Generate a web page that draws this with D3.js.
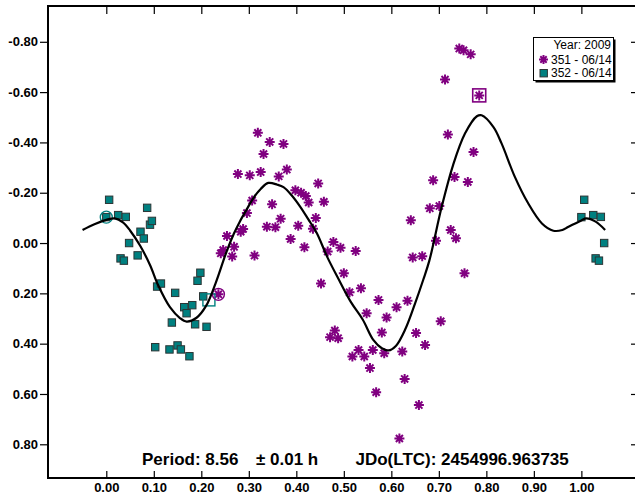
<!DOCTYPE html>
<html>
<head>
<meta charset="utf-8">
<script src="https://cdnjs.cloudflare.com/ajax/libs/d3/7.8.5/d3.min.js"></script>
<style>
  body { margin: 0; background: #fff; }
  svg { display: block; font-family: 'Liberation Sans', Arial, sans-serif; }
</style>
</head>
<body>
<div id="graph"></div>
<script>
// lightcurve data (phase, mag)

var phase351 = [0.236, 0.241, 0.246, 0.254, 0.265, 0.269, 0.277, 0.283, 0.288, 0.296, 0.302, 0.307, 0.312,
  0.319, 0.325, 0.331, 0.338, 0.344, 0.349, 0.356, 0.363, 0.367, 0.373, 0.380, 0.388, 0.398, 0.404, 0.410,
  0.417, 0.420, 0.426, 0.435, 0.441, 0.446, 0.452, 0.458, 0.466, 0.471, 0.478, 0.481, 0.488, 0.493, 0.500,
  0.512, 0.518, 0.525, 0.531, 0.536, 0.543, 0.548, 0.555, 0.561, 0.568, 0.573, 0.580, 0.585, 0.590, 0.611,
  0.617, 0.623, 0.628, 0.634, 0.641, 0.645, 0.652, 0.658, 0.665, 0.671, 0.681, 0.688, 0.694, 0.701, 0.704,
  0.713, 0.719, 0.725, 0.733, 0.736, 0.743, 0.752, 0.754, 0.761, 0.767, 0.773, 0.785];
var mag351 = [0.204, 0.041, 0.028, -0.028, 0.053, 0.015, -0.274, -0.045, -0.056, -0.119, -0.269, -0.169, 0.050,
  -0.438, -0.282, -0.354, -0.065, -0.402, -0.154, -0.063, -0.265, -0.097, -0.394, -0.292, -0.016, -0.210, -0.069, -0.200,
  0.017, -0.187, -0.161, -0.057, -0.100, -0.237, 0.161, -0.164, 0.034, 0.374, -0.004, 0.348, 0.378, 0.019, 0.120,
  0.196, 0.451, 0.032, 0.425, 0.180, 0.451, 0.279, 0.497, 0.425, 0.593, 0.226, 0.356, 0.438, 0.296, 0.255,
  0.777, 0.431, 0.540, 0.229, -0.091, 0.057, 0.358, 0.644, 0.052, 0.405, -0.138, -0.250, -0.009, -0.147, 0.311,
  -0.650, -0.431, -0.052, -0.263, -0.019, -0.773, -0.766, 0.120, -0.243, -0.750, -0.362, -0.587];

var phase352 = [0.000, 0.006, 0.025, 0.030, 0.037, 0.041, 0.048, 0.066, 0.072, 0.079, 0.086, 0.092, 0.096,
  0.103, 0.107, 0.115, 0.133, 0.138, 0.145, 0.150, 0.157, 0.164, 0.169, 0.175, 0.181, 0.187, 0.192, 0.198,
  0.204, 0.211, 0.216];
var mag352 = [-0.103, -0.172, -0.111, 0.061, 0.070, -0.104, 0.000, 0.049, -0.045, -0.018, -0.140, -0.073, -0.088,
  0.414, 0.173, 0.161, 0.423, 0.316, 0.198, 0.407, 0.423, 0.255, 0.279, 0.450, 0.247, 0.323, 0.150, 0.118,
  0.212, 0.333, 0.226];

// fourier fit, traced
var fitPhase = [-0.050, -0.025, 0.000, 0.018, 0.035, 0.050, 0.071, 0.092, 0.109, 0.134, 0.155, 0.169, 0.190,
  0.210, 0.230, 0.253, 0.268, 0.281, 0.296, 0.310, 0.325, 0.341, 0.360, 0.373, 0.390, 0.408, 0.425, 0.443,
  0.465, 0.488, 0.515, 0.540, 0.562, 0.580, 0.594, 0.610, 0.630, 0.650, 0.667, 0.680, 0.706, 0.730, 0.755,
  0.780, 0.790, 0.815, 0.832, 0.860, 0.888, 0.917, 0.941, 0.960, 0.973, 1.000, 1.010, 1.030, 1.050];
var fitMag = [-0.052, -0.075, -0.092, -0.098, -0.082, -0.050, 0.010, 0.087, 0.167, 0.255, 0.298, 0.312, 0.297,
  0.250, 0.160, 0.035, -0.035, -0.085, -0.135, -0.180, -0.215, -0.239, -0.232, -0.222, -0.190, -0.145, -0.095, -0.040,
  0.055, 0.140, 0.235, 0.305, 0.385, 0.418, 0.427, 0.408, 0.340, 0.240, 0.147, 0.070, -0.144, -0.310, -0.435,
  -0.504, -0.508, -0.461, -0.396, -0.263, -0.158, -0.078, -0.049, -0.052, -0.065, -0.090, -0.098, -0.085, -0.052];

var xTicks = [0, 0.1, 0.2, 0.3, 0.4, 0.5, 0.6, 0.7, 0.8, 0.9, 1.0];
var yTicks = [-0.8, -0.6, -0.4, -0.2, 0, 0.2, 0.4, 0.6, 0.8];

var legendTitle = 'Year: 2009';
var legendItems = ['351 - 06/14', '352 - 06/14'];
var periodText = 'Period: 8.56';
var errText = '\u00b1 0.01 h';
var jdText = 'JDo(LTC): 2454996.963735';

var w = 635, h = 499;
var L = 48, R = 636, T = 6, B = 478;

var svg = d3.select('#graph').append('svg').attr('width', w).attr('height', h);

var x = d3.scaleLinear().domain([-0.1227, 1.115]).range([L, R]);
var y = d3.scaleLinear().domain([-0.9423, 0.934]).range([T, B]);

var fmt = function(d) { return d3.format('.2f')(d).replace('\u2212', '-'); };

// axes - left ticks stick out, the rest point inwards
var gl = svg.append('g').attr('transform', 'translate(' + L + ',0)')
  .call(d3.axisLeft(y).tickValues(yTicks).tickFormat(fmt).tickSize(8).tickPadding(2));
var gb = svg.append('g').attr('transform', 'translate(0,' + B + ')')
  .call(d3.axisBottom(x).tickValues(xTicks).tickFormat(fmt).tickSize(-7).tickPadding(5));
var gt = svg.append('g').attr('transform', 'translate(0,' + T + ')')
  .call(d3.axisTop(x).tickValues(xTicks).tickFormat('').tickSize(-8));
var gr = svg.append('g').attr('transform', 'translate(' + R + ',0)')
  .call(d3.axisRight(y).tickValues(yTicks).tickFormat('').tickSize(-5));

[gl, gb, gt, gr].forEach(function(g) {
  g.select('.domain').remove();
  g.selectAll('line').attr('stroke', '#000').attr('stroke-width', 1.2);
  g.selectAll('text')
    .attr('fill', '#000')
    .style('font-family', "'Liberation Sans', Arial, sans-serif")
    .style('font-size', '13px')
    .style('font-weight', 'bold');
});

svg.append('rect')
  .attr('x', L).attr('y', T)
  .attr('width', R - L).attr('height', B - T)
  .attr('fill', 'none').attr('stroke', '#000').attr('stroke-width', 2);

// marker shapes
function star(r) {
  var d = r * 0.7071;
  return 'M' + -r + ',0L' + r + ',0M0,' + -r + 'L0,' + r +
    'M' + -d + ',' + -d + 'L' + d + ',' + d + 'M' + -d + ',' + d + 'L' + d + ',' + -d;
}

var purple = '#800080', teal = '#008080';

var s351 = phase351.map(function(p, i) { return { p: p, m: mag351[i] }; });
var s352 = phase352.map(function(p, i) { return { p: p, m: mag352[i] }; });
var last352 = s352[s352.length - 1];
// points near phase 0 are repeated past 1.0
var wrap352 = s352.filter(function(d) { return d.p < 0.05; }).map(function(d) { return { p: d.p + 1, m: d.m }; });

svg.selectAll('.ast')
  .data(s351)
  .enter()
  .append('path')
  .attr('class', 'ast')
  .attr('transform', function(d) { return 'translate(' + x(d.p) + ',' + y(d.m) + ')'; })
  .attr('d', star(5))
  .attr('stroke', purple)
  .attr('stroke-width', 2)
  .attr('fill', 'none');

svg.selectAll('.sq')
  .data(s352.slice(0, s352.length - 1).concat(wrap352))
  .enter()
  .append('rect')
  .attr('class', 'sq')
  .attr('x', function(d) { return x(d.p) - 3.7; })
  .attr('y', function(d) { return y(d.m) - 3.7; })
  .attr('width', 7.4)
  .attr('height', 7.4)
  .attr('fill', teal)
  .attr('stroke', '#2b3535')
  .attr('stroke-width', 1);

// first point circled, last point boxed
var first351 = s351[0], last351 = s351[s351.length - 1], first352 = s352[0];

svg.append('circle')
  .attr('cx', x(first352.p)).attr('cy', y(first352.m)).attr('r', 6)
  .attr('fill', 'none').attr('stroke', teal).attr('stroke-width', 1.4);
svg.append('rect')
  .attr('x', x(last352.p) - 6).attr('y', y(last352.m) - 6)
  .attr('width', 12).attr('height', 12)
  .attr('fill', 'none').attr('stroke', teal).attr('stroke-width', 1.4);
svg.append('circle')
  .attr('cx', x(first351.p)).attr('cy', y(first351.m)).attr('r', 6)
  .attr('fill', 'none').attr('stroke', purple).attr('stroke-width', 1.4);
svg.append('rect')
  .attr('x', x(last351.p) - 6.5).attr('y', y(last351.m) - 6.5)
  .attr('width', 13).attr('height', 13)
  .attr('fill', 'none').attr('stroke', purple).attr('stroke-width', 1.6);

// fit curve
var fit = fitPhase.map(function(p, i) { return [p, fitMag[i]]; });
var line = d3.line()
  .x(function(d) { return x(d[0]); })
  .y(function(d) { return y(d[1]); })
  .curve(d3.curveCatmullRom.alpha(0.5));

svg.append('path')
  .datum(fit)
  .attr('d', line)
  .attr('fill', 'none')
  .attr('stroke', '#000')
  .attr('stroke-width', 2.2);

// footer texts
var foot = svg.append('g')
  .style('font-size', '17px')
  .style('font-weight', 'bold')
  .attr('fill', '#000');
foot.append('text').attr('x', 142).attr('y', 465).text(periodText);
foot.append('text').attr('x', 256).attr('y', 465).text(errText);
foot.append('text').attr('x', 355.5).attr('y', 465).text(jdText);

// legend
var lg = svg.append('g').attr('id', 'legend');
lg.append('rect')
  .attr('x', 535.5).attr('y', 39.5).attr('width', 80).attr('height', 43)
  .attr('fill', '#000');
lg.append('rect')
  .attr('x', 533.5).attr('y', 37.5).attr('width', 80).attr('height', 43)
  .attr('fill', '#fff').attr('stroke', '#000').attr('stroke-width', 1);
lg.append('text')
  .attr('x', 611).attr('y', 48.5)
  .attr('text-anchor', 'end')
  .style('font-size', '12px')
  .text(legendTitle);
lg.selectAll('.item')
  .data(legendItems)
  .enter()
  .append('text')
  .attr('class', 'item')
  .attr('x', 551)
  .attr('y', function(d, i) { return 63.5 + i * 13.5; })
  .style('font-size', '12px')
  .text(function(d) { return d; });
lg.append('path')
  .attr('transform', 'translate(543.5,59.5)')
  .attr('d', star(4.5))
  .attr('stroke', purple).attr('stroke-width', 2).attr('fill', 'none');
lg.append('rect')
  .attr('x', 540).attr('y', 69.5).attr('width', 7.4).attr('height', 7.4)
  .attr('fill', teal).attr('stroke', '#2b3535').attr('stroke-width', 1);
</script>
</body>
</html>
